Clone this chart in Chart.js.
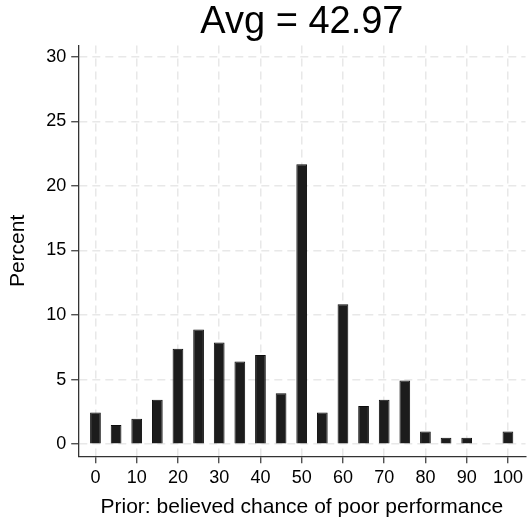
<!DOCTYPE html>
<html>
<head>
<meta charset="utf-8">
<script src="https://cdn.jsdelivr.net/npm/chart.js@4"></script>
<style>
	html, body { margin: 0; padding: 0; background: #fff; }
	#wrap { width: 527px; height: 521px; }
</style>
</head>
<body>
<div id="wrap"><canvas id="myChart"></canvas></div>
<script>
const priorBins = [0, 5, 10, 15, 20, 25, 30, 35, 40, 45, 50, 55, 60, 65, 70, 75, 80, 85, 90, 95, 100];
const percentValues = [2.46, 1.48, 1.97, 3.45, 7.39, 8.87, 7.88, 6.40, 6.90, 3.94, 21.67, 2.46, 10.84, 2.96, 3.45, 4.93, 0.99, 0.49, 0.49, 0, 0.99];
const xTicks = [0, 10, 20, 30, 40, 50, 60, 70, 80, 90, 100];
const yTicks = [0, 5, 10, 15, 20, 25, 30];
const titleText = 'Avg = 42.97';

Chart.defaults.font.family = "'Liberation Sans', Arial, sans-serif";
Chart.defaults.color = '#000';

const gridColor = '#e8e8e8';
const axisColor = '#333';

var data = {
	datasets: [{
		data: priorBins.map(function (b, i) { return { x: b, y: percentValues[i] }; }),
		backgroundColor: '#1c1c1c',
		borderColor: '#0d0d0d',
		borderWidth: 1,
		categoryPercentage: 1,
		barPercentage: 0.52
	}]
};

var config = {
	type: 'bar',
	data: data,
	options: {
		responsive: true,
		maintainAspectRatio: false,
		animation: false,
		layout: { padding: { left: 0, right: 0, top: 0, bottom: 0 } },
		plugins: {
			legend: { display: false },
			tooltip: { enabled: false },
			title: {
				display: true,
				fullSize: false,
				text: titleText,
				color: '#000',
				font: { size: 38, weight: 'normal' },
				lineHeight: 1.2,
				padding: { top: 0, bottom: 0 }
			}
		},
		scales: {
			x: {
				type: 'linear',
				min: -4.18,
				max: 104.27,
				offset: false,
				afterBuildTicks: function (scale) {
					scale.ticks = xTicks.map(function (v) { return { value: v }; });
				},
				ticks: {
					font: { size: 18 },
					color: '#000',
					padding: 4,
					maxRotation: 0,
					autoSkip: false
				},
				grid: {
					offset: false,
					color: gridColor,
					lineWidth: 1.5,
					tickLength: 7,
					tickColor: axisColor,
					tickWidth: 1.2,
					tickBorderDash: []
				},
				border: { color: axisColor, width: 1.3, dash: [8, 5] },
				title: {
					display: true,
					text: 'Prior: believed chance of poor performance',
					font: { size: 21 },
					color: '#000',
					padding: { top: 2, bottom: 1 }
				}
			},
			y: {
				min: -0.93,
				max: 30.86,
				afterBuildTicks: function (scale) {
					scale.ticks = yTicks.map(function (v) { return { value: v }; });
				},
				ticks: {
					font: { size: 18 },
					color: '#000',
					padding: 5
				},
				grid: {
					color: gridColor,
					lineWidth: 1.5,
					tickLength: 7,
					tickColor: axisColor,
					tickWidth: 1.2,
					tickBorderDash: []
				},
				border: { color: axisColor, width: 1.3, dash: [8, 5] },
				title: {
					display: true,
					text: 'Percent',
					font: { size: 21 },
					color: '#000',
					padding: { top: 6, bottom: 10 }
				}
			}
		}
	}
};

const myChart = new Chart(document.getElementById('myChart'), config);
</script>
</body>
</html>
